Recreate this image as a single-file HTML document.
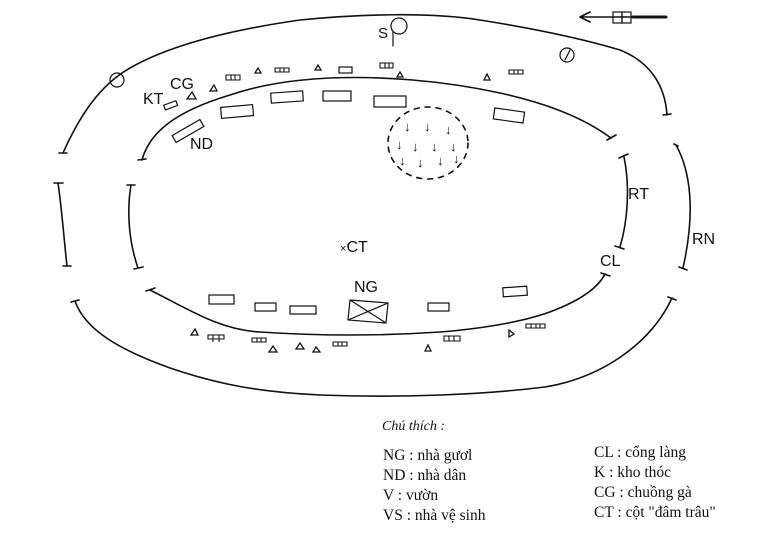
<!DOCTYPE html>
<html><head><meta charset="utf-8"><style>
html,body{margin:0;padding:0;background:#fff;width:768px;height:538px;overflow:hidden}
svg{display:block}
.s{font-family:"Liberation Sans",sans-serif;font-size:16px;fill:#111}
.l{font-family:"Liberation Serif",serif;font-size:15.5px;fill:#111}
</style></head><body>
<svg width="768" height="538" viewBox="0 0 768 538">
<g fill="none" stroke="#111" stroke-width="1.6" stroke-linecap="round">
<path d="M63,153 C80,115 100,85 130,68 C170,45 230,30 300,20 C360,14 430,12 480,20 C530,28 580,38 620,50 C650,62 665,85 667,115"/>
<path d="M59,153 L67,153 M663,115 L671,114"/>
<path d="M142,160 C150,130 180,110 230,95 C260,85 290,80 330,78 C380,76 440,80 500,93 C540,102 580,115 611,138"/>
<path d="M138,160 L146,159 M607,140 L616,135"/>
<path d="M58,183 C62,210 64,240 67,266 M54,183 L63,183 M63,266 L71,266"/>
<path d="M131,185 C126,215 130,245 138,268 M127,185 L135,185 M134,269 L143,267"/>
<path d="M75,301 C85,330 120,350 170,368 C220,385 260,392 320,395 C400,398 480,395 545,387 C600,378 650,345 672,298"/>
<path d="M71,302 L79,300 M668,297 L676,300"/>
<path d="M150,290 C190,310 220,330 260,332 C320,336 380,336 440,332 C490,328 530,320 555,310 C580,300 598,288 605,274"/>
<path d="M146,291 L155,288 M601,273 L610,276"/>
<path d="M624,157 C630,185 628,220 620,247 M619,158 L628,154 M615,246 L624,249"/>
<path d="M676,145 C690,170 696,210 683,268 M674,144 L678,146 M679,267 L687,270"/>
<circle cx="117" cy="80" r="7" stroke-width="1.2"/>
<circle cx="399" cy="26" r="8" stroke-width="1.2"/>
<circle cx="567" cy="55" r="7" stroke-width="1.2"/>
<path d="M393,32 L393,46 M565,60 L570,50" stroke-width="1.2"/>
<path d="M580,17 L666,17 M580,17 L590,12 M580,17 L590,22"/>
<path d="M633,17 L666,17" stroke-width="3"/>
<rect x="613" y="12" width="9" height="11" stroke-width="1.2"/><rect x="622" y="12" width="9" height="11" stroke-width="1.2"/>
<rect x="164" y="103" width="13" height="5" transform="rotate(-20 170 105)" stroke-width="1.2"/>
<rect x="221" y="106" width="32" height="11" transform="rotate(-5 237 111)" stroke-width="1.2"/>
<rect x="271" y="92" width="32" height="10" transform="rotate(-4 287 97)" stroke-width="1.2"/>
<rect x="323" y="91" width="28" height="10" stroke-width="1.2"/>
<rect x="374" y="96" width="32" height="11" stroke-width="1.2"/>
<rect x="494" y="110" width="30" height="11" transform="rotate(8 509 115)" stroke-width="1.2"/>
<rect x="172" y="127" width="32" height="8" transform="rotate(-30 188 131)" stroke-width="1.2"/>
<rect x="339" y="67" width="13" height="6" stroke-width="1.2"/>
<ellipse cx="428" cy="143" rx="40" ry="36" stroke-dasharray="5 6"/>
<rect x="209" y="295" width="25" height="9" stroke-width="1.2"/>
<rect x="255" y="303" width="21" height="8" stroke-width="1.2"/>
<rect x="290" y="306" width="26" height="8" stroke-width="1.2"/>
<rect x="428" y="303" width="21" height="8" stroke-width="1.2"/>
<rect x="503" y="287" width="24" height="9" transform="rotate(-4 515 291)" stroke-width="1.2"/>
<path d="M350,300 L388,303 L386,323 L348,320 Z M350,300 L386,323 M388,303 L348,320" stroke-width="1.2"/>
</g>
<g fill="none" stroke="#111" stroke-width="1.3">
<path d="M187,99 l5,-7 l4,7z M210,91 l4,-6 l3,6z M255,73 l3,-5 l3,5z M315,70 l3,-5 l3,5z M397,77 l3,-5 l3,5z M484,80 l3,-6 l3,6z"/>
<path d="M191,335 l4,-6 l3,6z M269,352 l4,-6 l4,6z M296,349 l4,-6 l4,6z M313,352 l3,-5 l4,5z M425,351 l3,-6 l3,6z M509,337 l5,-3 l-5,-4z"/>
</g>
<g fill="none" stroke="#111" stroke-width="1.1">
<path d="M226,75 h14 v5 h-14z M231,75v5 M235,75v5"/>
<path d="M275,68 h14 v4 h-14z M280,68v4 M284,68v4"/>
<path d="M380,63 h13 v5 h-13z M385,63v5 M389,63v5"/>
<path d="M509,70 h14 v4 h-14z M514,70v4 M518,70v4"/>
<path d="M208,335 h16 v4 h-16z M213,335v7 M219,335v7"/>
<path d="M252,338 h14 v4 h-14z M257,338v4 M261,338v4"/>
<path d="M333,342 h14 v4 h-14z M338,342v4 M342,342v4"/>
<path d="M444,336 h16 v5 h-16z M449,336v5 M454,336v5"/>
<path d="M526,324 h19 v4 h-19z M531,324v4 M536,324v4 M540,324v4"/>
</g>
<g class="s" style="font-size:13px">
<text x="404" y="131">↓</text><text x="424" y="131">↓</text><text x="445" y="134">↓</text>
<text x="396" y="149">↓</text><text x="412" y="151">↓</text><text x="431" y="151">↓</text><text x="450" y="151">↓</text>
<text x="399" y="165">↓</text><text x="417" y="167">↓</text><text x="437" y="165">↓</text><text x="453" y="163">↓</text>
</g>
<text class="s" x="143" y="104">KT</text>
<text class="s" x="170" y="89">CG</text>
<text class="s" x="190" y="149">ND</text>
<text class="s" x="378" y="38" style="font-size:15px">S</text>
<text class="s" x="354" y="292">NG</text>
<text class="s" x="340" y="252"><tspan style="font-size:11px">×</tspan>CT</text>
<text class="s" x="628" y="199">RT</text>
<text class="s" x="600" y="266">CL</text>
<text class="s" x="692" y="244">RN</text>
<text class="l" x="382" y="430" font-style="italic" style="font-size:14px">Chú thích :</text>
<text class="l" x="383" y="460">NG : nhà gươl</text>
<text class="l" x="383" y="480">ND : nhà dân</text>
<text class="l" x="383" y="500">V : vườn</text>
<text class="l" x="383" y="520">VS : nhà vệ sinh</text>
<text class="l" x="594" y="457">CL : cổng làng</text>
<text class="l" x="594" y="477">K : kho thóc</text>
<text class="l" x="594" y="497">CG : chuồng gà</text>
<text class="l" x="594" y="517">CT : cột "đâm trâu"</text>
</svg>
</body></html>
